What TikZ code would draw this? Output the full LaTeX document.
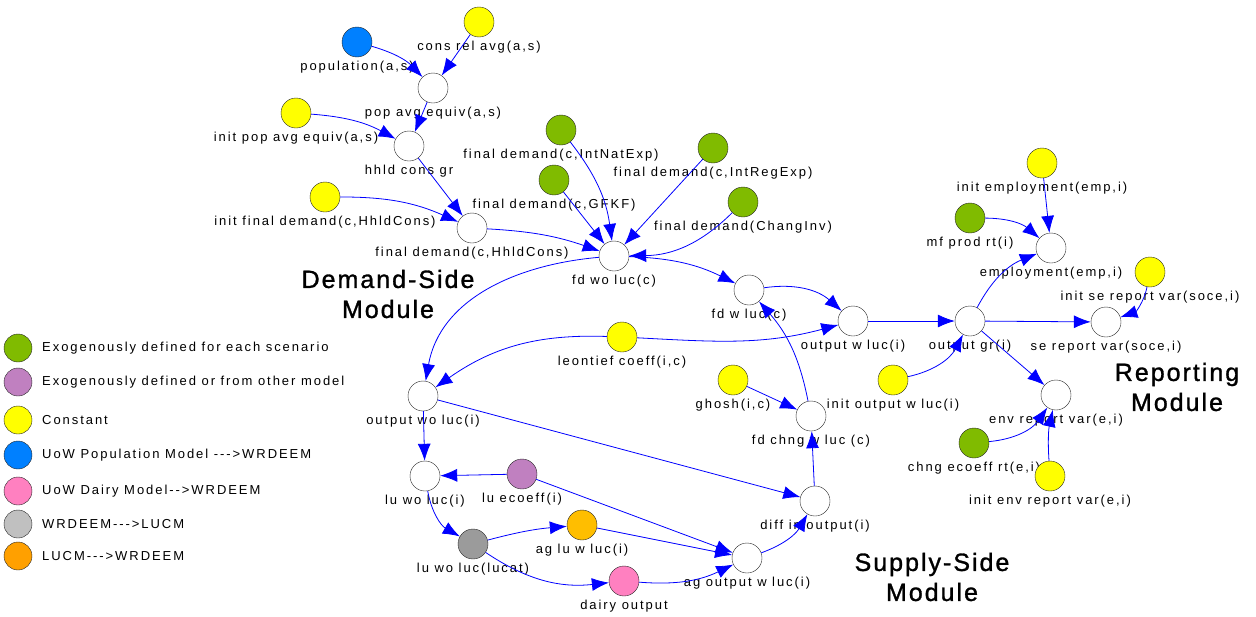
\documentclass[tikz,border=0pt]{standalone}
\usepackage{fontspec}
\setmainfont{Liberation Sans}
\newfontfamily\lblfont[LetterSpace=15]{Liberation Sans}
\newfontfamily\modfont[LetterSpace=8,FakeBold=1.2]{Liberation Sans}
\usetikzlibrary{arrows.meta}

\definecolor{exogreen}{RGB}{128,187,0}
\definecolor{exopurple}{RGB}{192,128,192}
\definecolor{constyellow}{RGB}{255,255,0}
\definecolor{popblue}{RGB}{0,128,255}
\definecolor{dairypink}{RGB}{255,128,192}
\definecolor{lucmgray}{RGB}{155,155,155}
\definecolor{leggray}{RGB}{192,192,192}
\definecolor{lucmorange}{RGB}{255,190,0}
\definecolor{legorange}{RGB}{255,160,0}
\definecolor{arrblue}{RGB}{0,0,255}

\tikzset{
  var/.style={circle,draw=black!85,fill=#1,minimum size=30pt,inner sep=0pt},
  var/.default=white,
  lbl/.style={font=\lblfont\fontsize{13}{15}\selectfont,inner sep=1pt},
  legvar/.style={circle,draw=black!85,fill=#1,minimum size=28pt,inner sep=0pt},
  legtxt/.style={font=\lblfont\fontsize{13}{15}\selectfont,anchor=west,inner sep=0pt},
  module/.style={font=\modfont\fontsize{25}{30}\selectfont,align=center},
  arr/.style={-{Latex[length=17pt,width=13pt]},arrblue,line width=0.8pt}
}

\begin{document}
\begin{tikzpicture}[x=1pt,y=-1pt,every label/.style={lbl},label distance=3pt]
    \useasboundingbox (0,0) rectangle (1256,616);

    % Demand side nodes
    \node (popul) at (357,42) [var=popblue,label=below:{population(a,s)}] {};
    \node (consrel) at (479,22) [var=constyellow,label=below:{cons rel avg(a,s)}] {};
    \node (popavg) at (433,88) [var,label=below:{pop avg equiv(a,s)}] {};
    \node (initpop) at (296,113) [var=constyellow,label=below:{init pop avg equiv(a,s)}] {};
    \node (hhldgr) at (409,146) [var,label=below:{hhld cons gr}] {};
    \node (initfd) at (325,197) [var=constyellow,label=below:{init final demand(c,HhldCons)}] {};
    \node (fdhhld) at (472,228) [var,label=below:{final demand(c,HhldCons)}] {};
    \node (fdnat) at (561,130) [var=exogreen,label=below:{final demand(c,IntNatExp)}] {};
    \node (fdgfkf) at (554,180) [var=exogreen,label=below:{final demand(c,GFKF)}] {};
    \node (fdreg) at (713,148) [var=exogreen,label=below:{final demand(c,IntRegExp)}] {};
    \node (fdinv) at (743,202) [var=exogreen,label=below:{final demand(ChangInv)}] {};
    \node (fdwo) at (614,256) [var,label=below:{fd wo luc(c)}] {};

    % Supply side nodes
    \node (fdw) at (749,290) [var,label=below:{fd w luc(c)}] {};
    \node (outw) at (853,321) [var,label=below:{output w luc(i)}] {};
    \node (leon) at (622,337) [var=constyellow,label=below:{leontief coeff(i,c)}] {};
    \node (outwo) at (423,396) [var,label=below:{output wo luc(i)}] {};
    \node (ghosh) at (733,380) [var=constyellow,label=below:{ghosh(i,c)}] {};
    \node (fdchng) at (811,416) [var,label=below:{fd chng w luc (c)}] {};
    \node (initoutw) at (893,380) [var=constyellow,label=below:{init output w luc(i)}] {};
    \node (luwo) at (425,476) [var,label=below:{lu wo luc(i)}] {};
    \node (lueco) at (522,474) [var=exopurple,label=below:{lu ecoeff(i)}] {};
    \node (diffout) at (815,501) [var,label=below:{diff in output(i)}] {};
    \node (lucat) at (473,544) [var=lucmgray,label=below:{lu wo luc(lucat)}] {};
    \node (aglu) at (582,525) [var=lucmorange,label=below:{ag lu w luc(i)}] {};
    \node (agout) at (747,558) [var,label=below:{ag output w luc(i)}] {};
    \node (dairy) at (624,581) [var=dairypink,label=below:{dairy output}] {};

    % Reporting nodes
    \node (outgr) at (970,321) [var,label=below:{output gr(i)}] {};
    \node (emp) at (1051,248) [var,label=below:{employment(emp,i)}] {};
    \node (initemp) at (1042,163) [var=constyellow,label=below:{init employment(emp,i)}] {};
    \node (mfprod) at (970,218) [var=exogreen,label=below:{mf prod rt(i)}] {};
    \node (initse) at (1150,272) [var=constyellow,label=below:{init se report var(soce,i)}] {};
    \node (serep) at (1106,322) [var,label=below:{se report var(soce,i)}] {};
    \node (envrep) at (1056,395) [var,label=below:{env report var(e,i)}] {};
    \node (chngeco) at (974,443) [var=exogreen,label=below:{chng ecoeff rt(e,i)}] {};
    \node (initenv) at (1050,476) [var=constyellow,label=below:{init env report var(e,i)}] {};

    % Module titles
    \node (demmod) at (388,294) [module] {Demand-Side\\Module};
    \node (supmod) at (932,577) [module] {Supply-Side\\Module};
    \node (repmod) at (1177,387) [module] {Reporting\\Module};

    % Legend
    \node (leg1) at (18,348) [legvar=exogreen] {};
    \node (leg2) at (18,382) [legvar=exopurple] {};
    \node (leg3) at (18,420) [legvar=constyellow] {};
    \node (leg4) at (18,455) [legvar=popblue] {};
    \node (leg5) at (18,491) [legvar=dairypink] {};
    \node (leg6) at (18,524) [legvar=leggray] {};
    \node (leg7) at (18,556) [legvar=legorange] {};
    \node (legt1) at (42,348) [legtxt] {Exogenously defined for each scenario};
    \node (legt2) at (42,382) [legtxt] {Exogenously defined or from other model};
    \node (legt3) at (42,420) [legtxt] {Constant};
    \node (legt4) at (42,455) [legtxt] {UoW Population Model --->WRDEEM};
    \node (legt5) at (42,491) [legtxt] {UoW Dairy Model-->WRDEEM};
    \node (legt6) at (42,524) [legtxt] {WRDEEM--->LUCM};
    \node (legt7) at (42,556) [legtxt] {LUCM--->WRDEEM};

    % Demand side edges
    \path[arr] (popul) edge[bend left=15] (popavg);
    \path[arr] (consrel) edge (popavg);
    \path[arr] (popavg) edge (hhldgr);
    \path[arr] (initpop) edge[bend left=12] (hhldgr);
    \path[arr] (hhldgr) edge (fdhhld);
    \path[arr] (initfd) edge[bend left=12] (fdhhld);
    \path[arr] (fdhhld) edge[bend left=8] (fdwo);
    \path[arr] (fdnat) edge[bend left=15] (fdwo);
    \path[arr] (fdgfkf) edge (fdwo);
    \path[arr] (fdreg) edge (fdwo);
    \path[arr] (fdinv) edge[bend left=22] (fdwo);
    \path[arr] (fdwo) edge[bend left=12] (fdw);
    \path[arr] (fdwo) edge[out=185,in=80] (outwo);

    % Supply side edges
    \path[arr] (leon) edge[out=178,in=35] (outwo);
    \path[arr] (leon) edge[out=-3,in=195] (outw);
    \path[arr] (fdw) edge[bend left=25] (outw);
    \path[arr] (fdchng) edge[bend right=15] (fdw);
    \path[arr] (ghosh) edge (fdchng);
    \path[arr] (diffout) edge (fdchng);
    \path[arr] (outwo) edge (luwo);
    \path[arr] (outwo) edge (diffout);
    \path[arr] (lueco) edge (luwo);
    \path[arr] (lueco) edge (agout);
    \path[arr] (luwo) edge[bend right=25] (lucat);
    \path[arr] (lucat) edge[bend left=5] (aglu);
    \path[arr] (aglu) edge (agout);
    \path[arr] (lucat) edge[bend right=20] (dairy);
    \path[arr] (dairy) edge[bend right=15] (agout);
    \path[arr] (agout) edge[bend right=20] (diffout);

    % Reporting edges
    \path[arr] (outw) edge (outgr);
    \path[arr] (initoutw) edge[bend right=25] (outgr);
    \path[arr] (outgr) edge[bend left=20] (emp);
    \path[arr] (mfprod) edge[bend left=20] (emp);
    \path[arr] (initemp) edge (emp);
    \path[arr] (outgr) edge (serep);
    \path[arr] (initse) edge[bend left=30] (serep);
    \path[arr] (outgr) edge (envrep);
    \path[arr] (chngeco) edge[bend right=25] (envrep);
    \path[arr] (initenv) edge[bend left=8] (envrep);
\end{tikzpicture}
\end{document}
